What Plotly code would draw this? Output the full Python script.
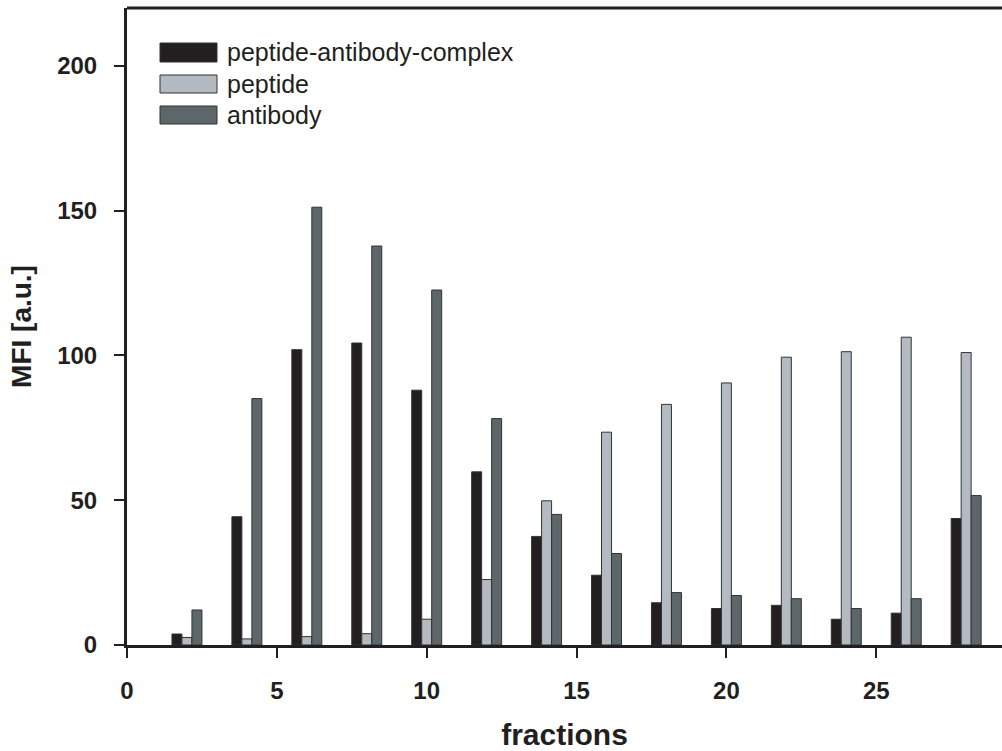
import plotly.graph_objects as go

# ---- data ----
fractions = [2, 4, 6, 8, 10, 12, 14, 16, 18, 20, 22, 24, 26, 28]
complex_vals = [3.8, 44.3, 102.0, 104.3, 88.0, 59.8, 37.5, 24.1, 14.6, 12.6, 13.7, 8.9, 11.0, 43.7]
peptide_vals = [2.6, 2.1, 2.9, 3.9, 8.9, 22.6, 49.8, 73.5, 83.1, 90.5, 99.4, 101.3, 106.3, 101.0]
antibody_vals = [12.1, 85.1, 151.2, 137.8, 122.6, 78.2, 45.1, 31.6, 18.1, 17.1, 16.0, 12.6, 16.0, 51.6]

series_names = ["peptide-antibody-complex", "peptide", "antibody"]
series_colors = ["#231f20", "#b4bac1", "#5d6669"]
x_ticks = [0, 5, 10, 15, 20, 25]
y_ticks = [0, 50, 100, 150, 200]

W, H = 1002, 751
ML, MR, MT, MB = 127, 0, 8, 106
FONT = "Liberation Sans, Arial, sans-serif"
INK = "#231f20"

fig = go.Figure()
for name, vals, col in zip(series_names, [complex_vals, peptide_vals, antibody_vals], series_colors):
    fig.add_trace(go.Bar(
        x=fractions, y=vals, name=name,
        marker=dict(color=col, line=dict(color="#333333", width=1)),
        showlegend=False,
    ))

# custom legend (large swatches like the reference)
pw = W - ML - MR
ph = H - MT - MB
def px2paper_x(px):
    return (px - ML) / pw
def px2paper_y(py):
    return (H - MB - py) / ph

legend_rows = [(43, 62), (75, 93), (106, 124)]
shapes = []
annotations = []
for (y0, y1), name, col in zip(legend_rows, series_names, series_colors):
    shapes.append(dict(type="rect", xref="paper", yref="paper",
                       x0=px2paper_x(160), x1=px2paper_x(217),
                       y0=px2paper_y(y1), y1=px2paper_y(y0),
                       fillcolor=col, line=dict(color="#333333", width=1)))
    annotations.append(dict(xref="paper", yref="paper",
                            x=px2paper_x(225), y=px2paper_y((y0 + y1) / 2),
                            text=name, showarrow=False, xanchor="left", yanchor="middle",
                            font=dict(family=FONT, size=25, color=INK)))

# top border line
shapes.append(dict(type="line", xref="paper", yref="paper", x0=0, x1=1, y0=1, y1=1,
                   line=dict(color=INK, width=3)))

fig.update_layout(
    width=W, height=H,
    margin=dict(l=ML, r=MR, t=MT, b=MB, pad=0),
    paper_bgcolor="white", plot_bgcolor="white",
    barmode="group", bargap=0.5, bargroupgap=0,
    shapes=shapes, annotations=annotations,
    font=dict(family=FONT, color=INK),
    xaxis=dict(
        range=[0, pw / 29.97], tickvals=x_ticks, ticktext=[str(v) for v in x_ticks],
        showgrid=False, zeroline=False, showline=True, linecolor=INK, linewidth=3,
        ticks="outside", ticklen=10, tickwidth=2, tickcolor=INK,
        ticklabelstandoff=12,
        tickfont=dict(family=FONT, size=24, color=INK, weight="bold"),
        title=dict(text="<b>fractions</b>", font=dict(family=FONT, size=30, color=INK), standoff=22),
    ),
    yaxis=dict(
        range=[0, 220], tickvals=y_ticks, ticktext=[str(v) for v in y_ticks],
        showgrid=False, zeroline=False, showline=True, linecolor=INK, linewidth=3,
        ticks="outside", ticklen=10, tickwidth=2, tickcolor=INK,
        ticklabelstandoff=12,
        tickfont=dict(family=FONT, size=24, color=INK, weight="bold"),
        title=dict(text="<b>MFI [a.u.]</b>", font=dict(family=FONT, size=28, color=INK), standoff=18),
    ),
)

fig.write_html("out.html")
